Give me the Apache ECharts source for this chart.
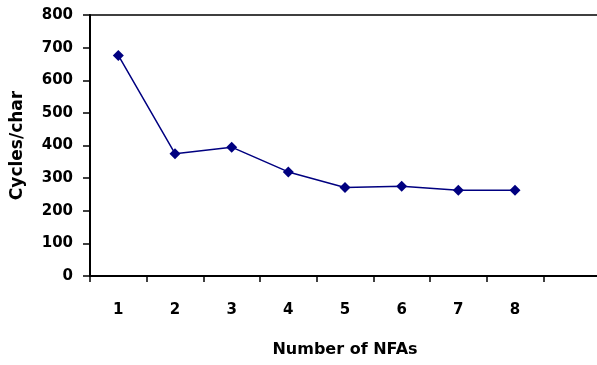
<!DOCTYPE html>
<html><head><meta charset="utf-8">
<script src="https://cdn.jsdelivr.net/npm/echarts@6/dist/echarts.min.js"></script>
<style>html,body{margin:0;padding:0;background:#fff}#c{width:597px;height:365px}</style>
</head><body><div id="c"></div>
<script>
var categories = ['1','2','3','4','5','6','7','8',''];
var cycles = [676, 375, 395, 319, 271, 275, 263, 263];
var yTicks = [0, 800, 100];
var xName = 'Number of NFAs';
var yName = 'Cycles/char';
var font = 'DejaVu Sans';
var chart = echarts.init(document.getElementById('c'));
chart.setOption({
  animation: false,
  grid: {left: 90, right: -3, top: 15, bottom: 89, outerBoundsMode: 'none', containLabel: false, show: true, borderColor: '#000', borderWidth: 1.5, backgroundColor: 'transparent'},
  xAxis: {
    type: 'category', data: categories, boundaryGap: true,
    name: xName, nameLocation: 'middle', nameGap: 66,
    nameTextStyle: {fontFamily: font, fontWeight: 'bold', fontSize: 16, color: '#000'},
    axisLine: {lineStyle: {color: '#000', width: 2}},
    axisTick: {show: true, length: 6, lineStyle: {color: '#000', width: 1.5}, alignWithLabel: false},
    axisLabel: {margin: 27, fontFamily: font, fontWeight: 'bold', fontSize: 15, color: '#000'},
    splitLine: {show: false}
  },
  yAxis: {
    type: 'value', min: yTicks[0], max: yTicks[1], interval: yTicks[2],
    name: yName, nameLocation: 'middle', nameGap: 64, nameRotate: 90,
    nameTextStyle: {fontFamily: font, fontWeight: 'bold', fontSize: 17, color: '#000'},
    axisLine: {show: true, lineStyle: {color: '#000', width: 2}},
    axisTick: {show: true, length: 7, lineStyle: {color: '#000', width: 1.5}},
    axisLabel: {margin: 17, fontFamily: font, fontWeight: 'bold', fontSize: 15, color: '#000'},
    splitLine: {show: false}
  },
  series: [{
    type: 'line', data: cycles,
    symbol: 'diamond', symbolSize: 11,
    lineStyle: {color: '#000080', width: 1.5},
    itemStyle: {color: '#000080'}
  }]
});
</script></body></html>
